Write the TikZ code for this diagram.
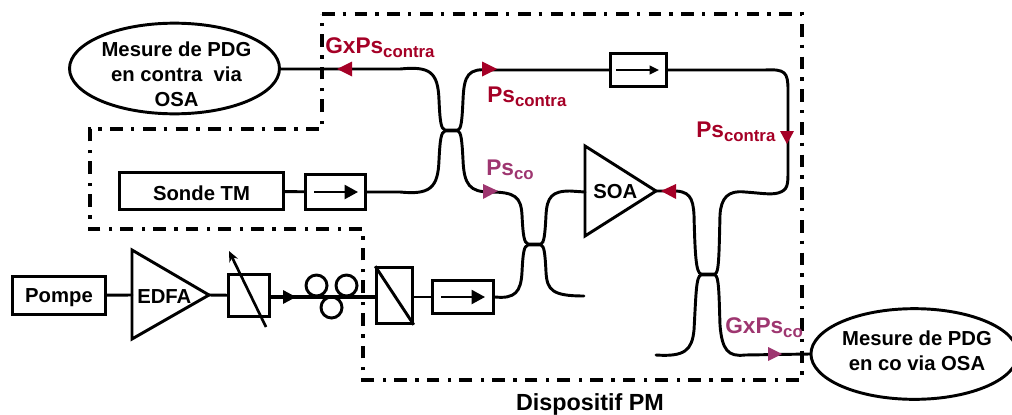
\documentclass[tikz,border=0pt]{standalone}
\usepackage{fontspec}
\setmainfont{Liberation Sans}
\usetikzlibrary{arrows.meta,shapes.geometric}
\definecolor{cred}{HTML}{A50026}
\definecolor{cpur}{HTML}{9E3670}
\newcommand{\lowtxt}[1]{\raisebox{-0.38ex}{\fontsize{12.6}{14}\selectfont #1}}
\tikzset{
  x=0.75pt,y=-0.75pt,
  lbl/.style={font=\bfseries\fontsize{15.2}{18.6}\selectfont,inner sep=0,align=center},
  boxn/.style={draw,line width=2.2pt,inner sep=0,font=\bfseries\fontsize{15.2}{18.6}\selectfont},
  ovaln/.style={draw,ellipse,line width=2.2pt,inner sep=0},
  fib/.style={line width=2.2pt,line cap=round},
  tri/.style={draw,line width=2.2pt,line join=miter},
  frame/.style={line width=2.4pt,dash pattern=on 9.5pt off 6pt on 2.5pt off 6.5pt},
  redl/.style={font=\bfseries\fontsize{17}{19}\selectfont,text=cred,inner sep=0,anchor=base west},
  purl/.style={font=\bfseries\fontsize{17}{19}\selectfont,text=cpur,inner sep=0,anchor=base west},
  iso/.style={-{Triangle[length=10pt,width=10.5pt]},line width=1.6pt},
}
\begin{document}
\begin{tikzpicture}
\useasboundingbox (0,0) rectangle (1012,414);
% frame
\draw[frame] (322,14) -- (802,14) -- (802,380) -- (363,380) -- (363,229) -- (90,229) -- (90,129) -- (322,129) -- cycle;
% nodes
\node[ovaln,minimum width=157.5pt,minimum height=68pt] (mc) at (174.5,68.5) {};
\node[lbl] (mct) at (176.5,74) {Mesure de PDG\\en contra~ via\\OSA};
\node[ovaln,minimum width=155pt,minimum height=68pt,anchor=west] (mo) at (809.5,354) {};
\node[lbl] (mot) at (917,351) {Mesure de PDG\\en co via OSA};
\node[boxn,minimum width=123pt,minimum height=28pt] (sonde) at (201.5,191) {\rule{0pt}{14pt}Sonde TM};
\node[boxn,minimum width=45pt,minimum height=26pt] (iso1) at (335.5,192) {};
\node[boxn,minimum width=42pt,minimum height=25pt] (iso2) at (638.5,70) {};
\node[boxn,minimum width=46pt,minimum height=25pt] (iso3) at (463,297) {};
\node[boxn,minimum width=70pt,minimum height=28pt] (pompe) at (59,295.5) {\rule{0pt}{14pt}Pompe};
\node[boxn,minimum width=31pt,minimum height=32pt] (att) at (249,295.5) {};
\node[boxn,minimum width=27pt,minimum height=42pt,line width=1.9pt] (pol) at (394.5,295.5) {};
\node[lbl,anchor=west] (soa) at (593,192) {SOA};
\node[lbl,anchor=west] (edfa) at (137,297) {EDFA};
% amplifiers
\coordinate (soaTip) at (656,191);
\coordinate (soaIn) at (585,192);
\coordinate (edfaTip) at (209,295);
\coordinate (edfaIn) at (132,295);
\draw[tri] (585,146) -- (soaTip) -- (585,236) -- cycle;
\draw[tri] (132,250) -- (edfaTip) -- (132,339) -- cycle;
% isolator inner arrows
\draw[iso] (314,192) -- (358,192);
\draw[-{Triangle[length=7pt,width=6.5pt]},line width=1.5pt] (616,70) -- (659,70);
\draw[iso] (441,297) -- (485,297);
% attenuator and polariser
\draw[-{Stealth[length=8pt,width=7pt]},line width=2pt] (266,327) -- (229,251);
\draw[line width=2.2pt] (pol.north west) -- (pol.south east);
% straight connectors
\draw[fib] (pompe) -- (edfaIn);
\draw[fib] (edfaTip) -- (att);
\draw[fib] (sonde) -- (iso1);
\draw[fib,line width=2.6pt] (att.east |- 0,297) -- (pol.west |- 0,297);
\draw[fib] (pol.east |- iso3) -- (iso3);
% fibre polarisation loops
\draw[line width=2.2pt] (316.5,285.5) circle (10.5);
\draw[line width=2.2pt] (346.5,285.5) circle (10.5);
\draw[line width=2.2pt] (331.5,307.5) circle (10.5);
% coupler A
\draw[fib] (mc.east |- 0,69) -- (400,69) .. controls (430,66) and (438,72) .. (439,100) .. controls (440,122) and (441,129) .. (445,130) -- (458,130) .. controls (461,129) and (462,122) .. (463,100) .. controls (464,75) and (468,68) .. (490,70) -- (iso2.west);
\draw[fib] (iso1.east) -- (400,192) .. controls (430,195) and (438,188) .. (439,160) .. controls (440,140) and (441,132) .. (445,131) -- (458,131) .. controls (461,132) and (462,140) .. (463,160) .. controls (464,185) and (470,192) .. (490,192);
% coupler B
\draw[fib] (490,192) .. controls (515,192) and (521,197) .. (522,215) .. controls (523,235) and (524,243) .. (528,244) -- (541,244) .. controls (544,243) and (545,235) .. (546,215) .. controls (547,197) and (552,191) .. (570,191) -- (soaIn);
\draw[fib] (iso3.east) .. controls (515,299) and (521,292) .. (522,272) .. controls (523,252) and (524,246) .. (528,245) -- (541,245) .. controls (544,246) and (545,252) .. (546,272) .. controls (547,290) and (552,296) .. (584,296);
% coupler C
\draw[fib] (soaTip) -- (670,191) .. controls (690,190) and (693,198) .. (694,215) .. controls (695,255) and (696,273) .. (701,274) -- (715,274) .. controls (719,273) and (719,255) .. (720,215) .. controls (721,198) and (728,190) .. (745,192) .. controls (760,193) and (770,195) .. (778,193) .. controls (788,190) and (788,185) .. (788,170) -- (788,90) .. controls (788,72) and (785,69) .. (765,70) -- (iso2.east);
\draw[fib] (656,355) .. controls (685,357) and (692,350) .. (694,330) .. controls (696,295) and (696,276) .. (701,275) -- (715,275) .. controls (719,276) and (719,295) .. (720,325) .. controls (722,350) and (728,357) .. (745,355) -- (mo.west |- 0,354);
% direction heads
\fill[cred] (337,69) -- (352,61.5) -- (352,76.5) -- cycle;
\fill[cred] (497,69) -- (482,61.5) -- (482,76.5) -- cycle;
\fill[cred] (787,144) -- (780,131) -- (794,131) -- cycle;
\fill[cred] (661,191) -- (676,184) -- (676,199) -- cycle;
\fill[cpur] (498,191) -- (483,184) -- (483,199) -- cycle;
\fill[cpur] (782,354) -- (768,347) -- (768,361) -- cycle;
\fill[black] (296,297) -- (283,290) -- (283,304) -- cycle;
% labels
\node[redl] (l1) at (325,53) {GxPs\lowtxt{contra}};
\node[redl] (l2) at (487,102) {Ps\lowtxt{contra}};
\node[redl] (l3) at (696,137) {Ps\lowtxt{contra}};
\node[purl] (l4) at (486,175) {Ps\lowtxt{co}};
\node[purl] (l5) at (725,333) {GxPs\lowtxt{co}};
\node[font=\bfseries\fontsize{17.5}{19}\selectfont,inner sep=0] (dp) at (590,404) {Dispositif PM};
\end{tikzpicture}
\end{document}
